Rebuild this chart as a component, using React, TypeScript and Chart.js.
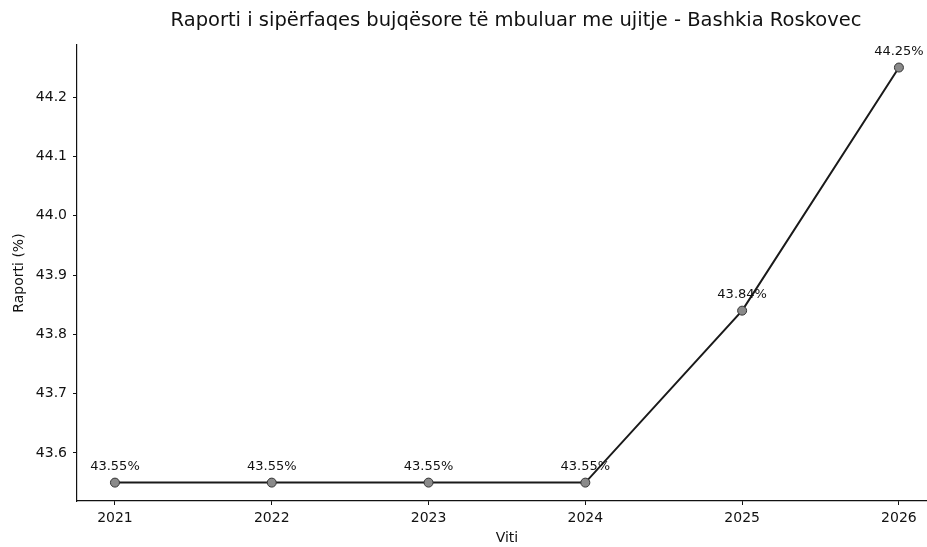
import React, { useEffect, useRef } from "react";
import { Chart, registerables } from "chart.js";

Chart.register(...registerables);

const years = [2021, 2022, 2023, 2024, 2025, 2026];
const ratios = [43.55, 43.55, 43.55, 43.55, 43.84, 44.25];
const yTicks = [43.6, 43.7, 43.8, 43.9, 44.0, 44.1, 44.2];
const titleText = "Raporti i sipërfaqes bujqësore të mbuluar me ujitje - Bashkia Roskovec";
const xLabel = "Viti";
const yLabel = "Raporti (%)";

const FONT = "'DejaVu Sans', sans-serif";

const annotatePlugin = {
  id: "annotate",
  afterDatasetsDraw(chart: any) {
    const ctx = chart.ctx;
    const meta = chart.getDatasetMeta(0);
    ctx.save();
    ctx.fillStyle = "#111";
    ctx.font = `13px ${FONT}`;
    ctx.textAlign = "center";
    ctx.textBaseline = "middle";
    meta.data.forEach((pt: any, i: number) => {
      ctx.fillText(ratios[i].toFixed(2) + "%", pt.x, pt.y - 16);
    });
    ctx.restore();
  },
  afterDraw(chart: any) {
    const ctx = chart.ctx;
    const xs = chart.scales.x;
    const area = chart.chartArea;
    const fullLeft = xs.getPixelForValue(2020.75);
    const fullRight = xs.getPixelForValue(2026.25);
    const cx = (fullLeft + fullRight) / 2;
    ctx.save();
    ctx.fillStyle = "#111";
    ctx.textAlign = "center";
    ctx.textBaseline = "middle";
    ctx.font = `19.5px ${FONT}`;
    ctx.fillText(titleText, 516, 21);
    ctx.font = `14px ${FONT}`;
    ctx.fillText(xLabel, cx, 538);
    ctx.translate(19, (area.top + area.bottom) / 2);
    ctx.rotate(-Math.PI / 2);
    ctx.fillText(yLabel, 0, 0);
    ctx.restore();
  },
};

export default function App() {
  const ref = useRef<HTMLCanvasElement>(null);
  useEffect(() => {
    if (!ref.current) return;
    const chart = new Chart(ref.current, {
      type: "line",
      data: {
        datasets: [
          {
            data: years.map((y, i) => ({ x: y, y: ratios[i] })),
            borderColor: "#1a1a1a",
            borderWidth: 2,
            pointRadius: 4.5,
            pointBackgroundColor: "#8a8a8a",
            pointBorderColor: "#333",
            pointBorderWidth: 1,
            tension: 0,
            clip: false,
          },
        ],
      },
      options: {
        animation: false,
        responsive: false,
        maintainAspectRatio: false,
        layout: { autoPadding: false, padding: { top: 45, left: 0, right: 0, bottom: 0 } },
        plugins: {
          legend: { display: false },
          tooltip: { enabled: false },
          title: { display: false },
        },
        scales: {
          x: {
            type: "linear",
            min: 2020.758,
            max: 2026.179,
            afterBuildTicks: (s: any) => {
              s.ticks = years.map((v) => ({ value: v }));
            },
            afterFit: (s: any) => {
              s.height = 46;
              s.paddingRight = 0;
              s.paddingLeft = 0;
            },
            ticks: {
              color: "#111",
              font: { family: FONT, size: 14 },
              padding: 5,
              maxRotation: 0,
              autoSkip: false,
              callback: (v: any) => String(v),
            },
            grid: { drawOnChartArea: false, drawTicks: true, tickLength: 4, color: "#111" },
            border: { display: true, color: "#111", width: 1.2 },
          },
          y: {
            type: "linear",
            min: 43.519,
            max: 44.288,
            afterBuildTicks: (s: any) => {
              s.ticks = yTicks.map((v) => ({ value: v }));
            },
            afterFit: (s: any) => {
              s.width = 77;
              s.paddingTop = 0;
              s.paddingBottom = 0;
            },
            ticks: {
              color: "#111",
              font: { family: FONT, size: 14 },
              padding: 6,
              autoSkip: false,
              callback: (v: any) => Number(v).toFixed(1),
            },
            grid: { drawOnChartArea: false, drawTicks: true, tickLength: 4, color: "#111" },
            border: { display: true, color: "#111", width: 1.2 },
          },
        },
      },
      plugins: [annotatePlugin],
    } as any);
    return () => chart.destroy();
  }, []);
  return (
    <div style={{ position: "absolute", left: 0, top: 0, width: 927, height: 547, background: "#fff" }}>
      <canvas ref={ref} width={927} height={547} style={{ display: "block" }} />
    </div>
  );
}
